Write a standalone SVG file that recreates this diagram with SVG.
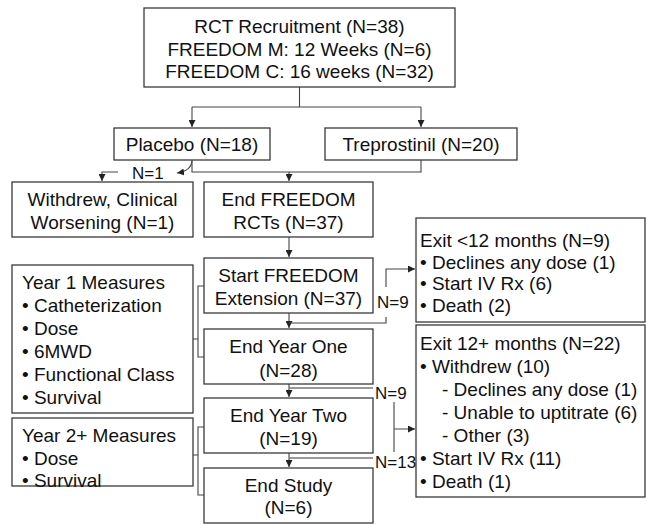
<svg xmlns="http://www.w3.org/2000/svg" width="647" height="524" viewBox="0 0 647 524">
<style>
.box{fill:#fff;stroke:#3a3a3a;stroke-width:1.3}
.t{font-family:"Liberation Sans",Arial,sans-serif;font-size:19px;fill:#111}
.c{text-anchor:middle}
.ln{fill:none;stroke:#444;stroke-width:1.1}
.lg{fill:none;stroke:#777;stroke-width:1.4}
.lbl{font-family:"Liberation Sans",Arial,sans-serif;font-size:17px;fill:#111}
</style>
<defs>
<marker id="ah" markerWidth="8" markerHeight="7" refX="7" refY="3.5" orient="auto" markerUnits="userSpaceOnUse">
<path d="M0,0 L7,3.5 L0,7 z" fill="#222"/>
</marker>
</defs>
<rect width="647" height="524" fill="#fff"/>

<g id="connectors">
<path class="ln" d="M299.5,87 V107 M192,107 H421" />
<path class="ln" d="M192,107 V127" marker-end="url(#ah)"/>
<path class="ln" d="M421,107 V127" marker-end="url(#ah)"/>
<path class="ln" d="M192,160 V172 H421 V160"/>
<path class="ln" d="M289,172 V181" marker-end="url(#ah)"/>
<path class="ln" d="M192,161 Q191,171 177,173" marker-end="url(#ah)"/>
<path class="ln" d="M118,172 H102 V181" marker-end="url(#ah)"/>
<path class="ln" d="M289,237 V257" marker-end="url(#ah)"/>
<path class="ln" d="M289,313 V328" marker-end="url(#ah)"/>
<path class="ln" d="M289,323 H386 V317 M386,287 V269 H415" marker-end="url(#ah)"/>
<path class="ln" d="M289,384 V397" marker-end="url(#ah)"/>
<path class="lg" d="M289,388 H373"/>
<path class="ln" d="M289,453 V467" marker-end="url(#ah)"/>
<path class="lg" d="M289,458 H373"/>
<path class="ln" d="M394,402 V452 M394,429 H415" marker-end="url(#ah)"/>
<path class="ln" d="M193,339 H198 M204,286 H198 V357 H204"/>
<path class="ln" d="M193,455 H198 M204,427 H198 V495 H204"/>
<text class="lbl" x="132" y="179">N=1</text>
<text class="lbl" x="377" y="308">N=9</text>
<text class="lbl" x="375" y="399">N=9</text>
<text class="lbl" x="375" y="468">N=13</text>
</g>

<g id="recruit">
<rect class="box" x="144" y="8" width="311" height="79"/>
<text class="t c" x="299.5" y="32.5">RCT Recruitment (N=38)</text>
<text class="t c" x="299.5" y="55.5">FREEDOM M: 12 Weeks (N=6)</text>
<text class="t c" x="299.5" y="77.5">FREEDOM C: 16 weeks (N=32)</text>
</g>

<g id="placebo">
<rect class="box" x="114" y="128" width="156" height="32"/>
<text class="t c" x="192" y="150.5">Placebo (N=18)</text>
</g>

<g id="treprostinil">
<rect class="box" x="325" y="128" width="192" height="32"/>
<text class="t c" x="421" y="150.5">Treprostinil (N=20)</text>
</g>

<g id="withdrew">
<rect class="box" x="12" y="182" width="181" height="55"/>
<text class="t c" x="102.5" y="205.5">Withdrew, Clinical</text>
<text class="t c" x="102.5" y="228.5">Worsening (N=1)</text>
</g>

<g id="end-rct">
<rect class="box" x="204" y="182" width="169" height="55"/>
<text class="t c" x="288.5" y="205.5">End FREEDOM</text>
<text class="t c" x="288.5" y="228.5">RCTs (N=37)</text>
</g>

<g id="start-ext">
<rect class="box" x="204" y="258" width="169" height="55"/>
<text class="t c" x="288.5" y="281.5">Start FREEDOM</text>
<text class="t c" x="288.5" y="304.5">Extension (N=37)</text>
</g>

<g id="end-y1">
<rect class="box" x="204" y="329" width="169" height="55"/>
<text class="t c" x="288.5" y="352.5">End Year One</text>
<text class="t c" x="288.5" y="376.5">(N=28)</text>
</g>

<g id="end-y2">
<rect class="box" x="204" y="398" width="169" height="55"/>
<text class="t c" x="288.5" y="421.5">End Year Two</text>
<text class="t c" x="288.5" y="444.5">(N=19)</text>
</g>

<g id="end-study">
<rect class="box" x="204" y="468" width="169" height="55"/>
<text class="t c" x="288.5" y="491.5">End Study</text>
<text class="t c" x="288.5" y="513.5">(N=6)</text>
</g>

<g id="year1">
<rect class="box" x="12" y="265" width="181" height="148"/>
<text class="t" x="22" y="288.5">Year 1 Measures</text>
<text class="t" x="22" y="311.5">• Catheterization</text>
<text class="t" x="22" y="334.5">• Dose</text>
<text class="t" x="22" y="357.5">• 6MWD</text>
<text class="t" x="22" y="380.5">• Functional Class</text>
<text class="t" x="22" y="403.5">• Survival</text>
</g>

<g id="year2">
<rect class="box" x="12" y="418" width="181" height="68"/>
<text class="t" x="22" y="441.5">Year 2+ Measures</text>
<text class="t" x="22" y="464.5">• Dose</text>
<text class="t" x="22" y="486.5">• Survival</text>
</g>

<g id="exit-lt12">
<rect class="box" x="416" y="218" width="229" height="104"/>
<text class="t" x="420" y="246.5">Exit &lt;12 months (N=9)</text>
<text class="t" x="420" y="268.5">• Declines any dose (1)</text>
<text class="t" x="420" y="289.5">• Start IV Rx (6)</text>
<text class="t" x="420" y="311.5">• Death (2)</text>
</g>

<g id="exit-12plus">
<rect class="box" x="416" y="325" width="229" height="172"/>
<text class="t" x="420" y="349.5">Exit 12+ months (N=22)</text>
<text class="t" x="420" y="372.5">• Withdrew (10)</text>
<text class="t" x="442" y="395.5">- Declines any dose (1)</text>
<text class="t" x="442" y="418.5">- Unable to uptitrate (6)</text>
<text class="t" x="442" y="441.5">- Other (3)</text>
<text class="t" x="420" y="464.5">• Start IV Rx (11)</text>
<text class="t" x="420" y="487.5">• Death (1)</text>
</g>
</svg>
